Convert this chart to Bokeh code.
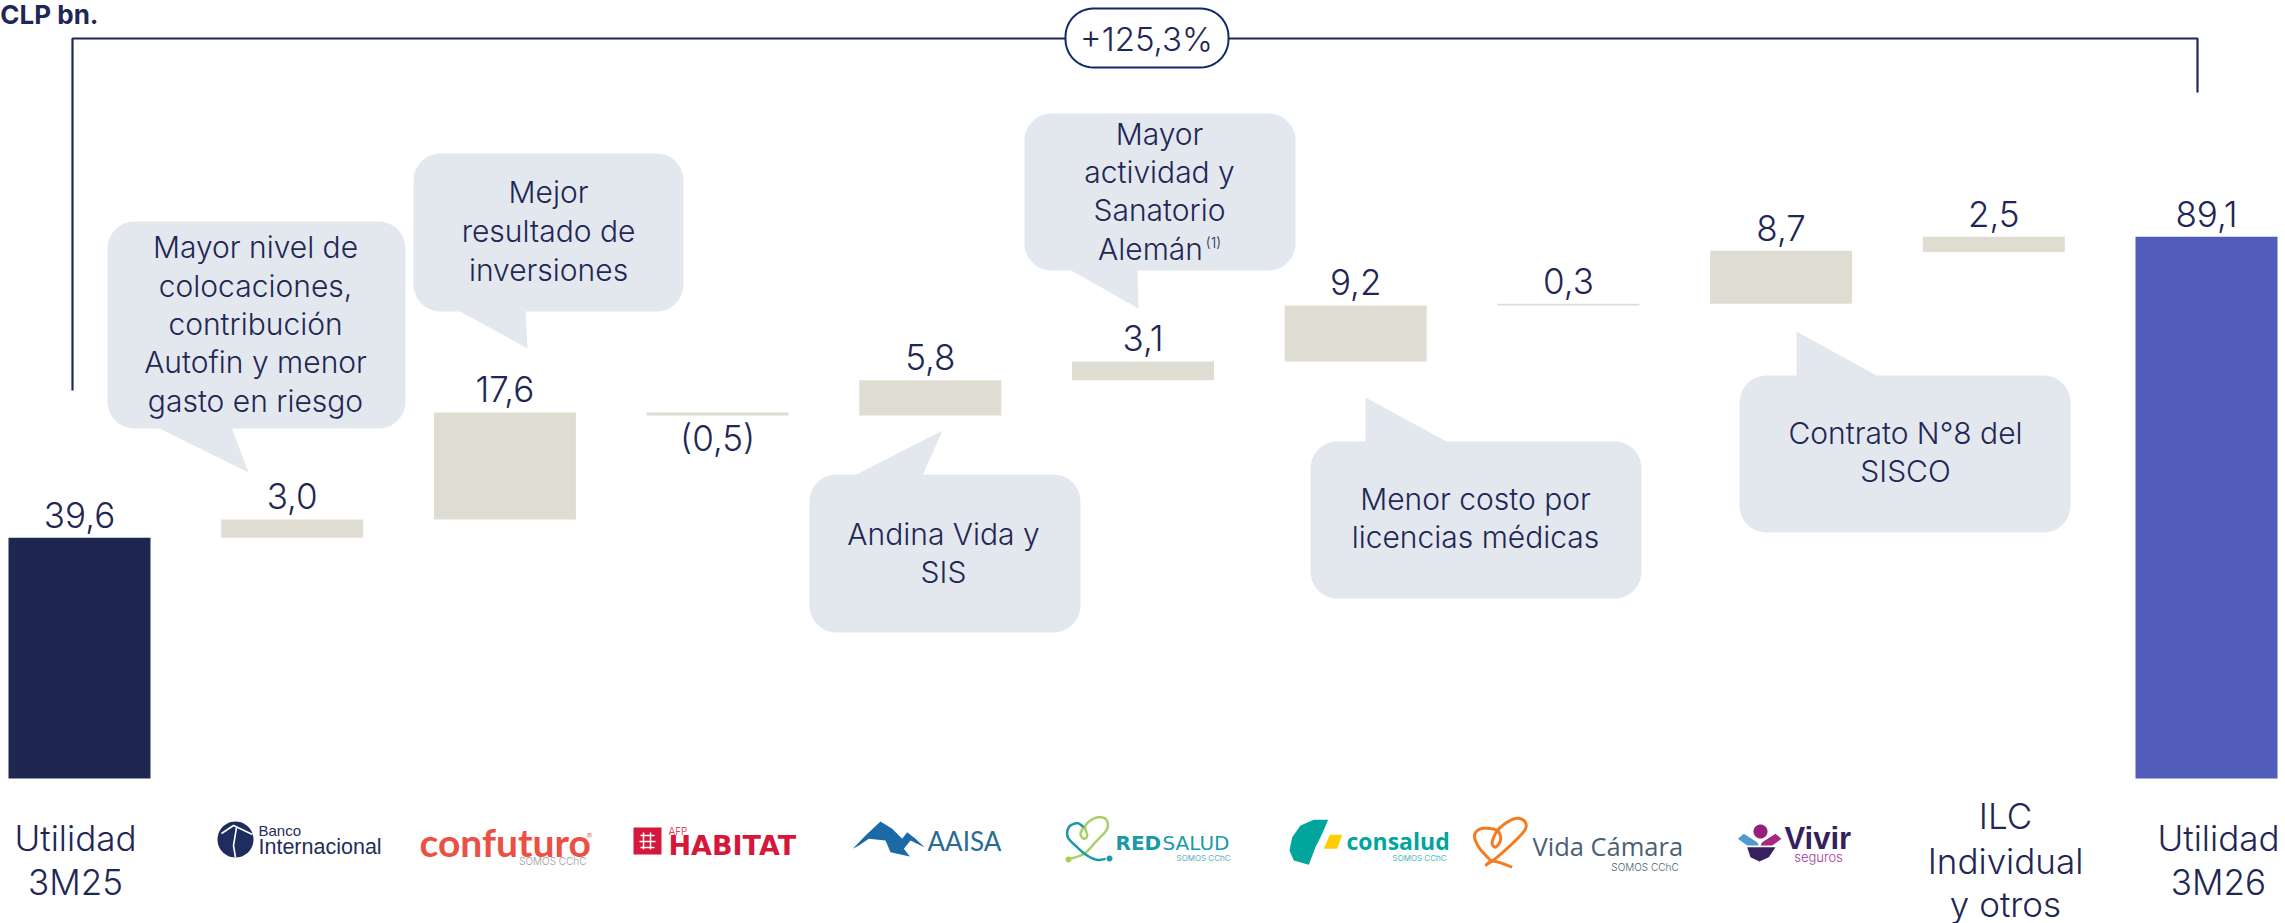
import math
from bokeh.plotting import figure
from bokeh.models import Range1d
from bokeh.core.properties import value
from bokeh.embed import file_html
from bokeh.resources import INLINE

# ---- data ----
categories = ["Utilidad 3M25", "Banco Internacional", "Confuturo", "AFP Habitat", "AAISA", "RedSalud",
              "Consalud", "Vida Cámara", "Vivir", "ILC Individual y otros", "Utilidad 3M26"]
values = [39.6, 3.0, 17.6, 0.5, 5.8, 3.1, 9.2, 0.3, 8.7, 2.5, 89.1]
starts = [0, 39.6, 42.6, 59.7, 59.7, 65.5, 68.6, 77.8, 78.1, 86.6, 0]
labels = ["39,6", "3,0", "17,6", "(0,5)", "5,8", "3,1", "9,2", "0,3", "8,7", "2,5", "89,1"]
bar_colors = ["#1F2650"] + ["#DFDDD1"] * 9 + ["#525CBB"]
change_label = "+125,3%"
unit_label = "CLP bn."

NAVY = "#1F2755"
BUBBLE = "#E3E7EE"
FONT = value("Inter Light")

W, H = 2285, 923
X0, STEP, Y0, PPU = 79.0, 212.7, 778.0, 6.08


def X(px):
    return (px - X0) / STEP


def Y(py):
    return (Y0 - py) / PPU


p = figure(width=W, height=H, output_backend="svg", toolbar_location=None,
           x_range=Range1d(X(0), X(W)), y_range=Range1d(Y(H), Y(0)),
           min_border=0, outline_line_color=None, background_fill_color="white")
p.axis.visible = False
p.grid.visible = False


def fill(pts, color, **kw):
    p.patch([X(a) for a, _ in pts], [Y(b) for _, b in pts], fill_color=color, line_color=None, **kw)


def stroke(pts, color, width=2.0, **kw):
    p.line([X(a) for a, _ in pts], [Y(b) for _, b in pts], line_color=color, line_width=width, **kw)


def txt(x, y, s, size, color=NAVY, align="center", style="normal", font=FONT):
    p.text([X(x)], [Y(y)], text=[s], text_font=font, text_font_size=f"{size}px", text_color=color,
           text_align=align, text_baseline="middle", text_font_style=style)


def round_rect(x0, y0, x1, y1, r):
    pts = []
    for cx, cy, a0 in ((x1 - r, y0 + r, -90), (x1 - r, y1 - r, 0), (x0 + r, y1 - r, 90), (x0 + r, y0 + r, 180)):
        for k in range(13):
            t = math.radians(a0 + k * 7.5)
            pts.append((cx + r * math.cos(t), cy + r * math.sin(t)))
    return pts


def smooth(pts, n=8):
    """Catmull-Rom rounding of a logo's hand-placed outline."""
    out = []
    q = [pts[0]] + list(pts) + [pts[-1]]
    for i in range(1, len(q) - 2):
        a, b, c, d = q[i - 1], q[i], q[i + 1], q[i + 2]
        for k in range(n):
            t = k / n
            out.append(tuple(
                0.5 * (2 * b[j] + (c[j] - a[j]) * t + (2 * a[j] - 5 * b[j] + 4 * c[j] - d[j]) * t * t
                       + (3 * b[j] - a[j] - 3 * c[j] + d[j]) * t ** 3) for j in (0, 1)))
    out.append(pts[-1])
    return out


def callout(box, tail, lines, cx, line_ys, size=30):
    fill(round_rect(*box, 27), BUBBLE)
    fill(tail, BUBBLE)
    for s, y in zip(lines, line_ys):
        txt(cx, y - 1.5, s, size)


# ---- bracket ----
stroke([(72, 390), (72, 38), (2197, 38), (2197, 92)], NAVY, 2.2)
pill = round_rect(1065, 8, 1228, 67, 28)
p.patch([X(a) for a, _ in pill], [Y(b) for _, b in pill], fill_color="white", line_color="#0D2A6B", line_width=2)
txt(1146, 38, change_label, 33)
txt(98, 14, unit_label, 26, align="right", style="bold", font=value("Inter"))

# ---- callouts ----
callout((107, 221, 405, 428), [(157, 427), (248, 472), (231, 427)],
        ["Mayor nivel de", "colocaciones,", "contribución", "Autofin y menor", "gasto en riesgo"],
        255, [248, 287, 325, 363, 402])
callout((413, 153, 683, 311), [(458, 310), (527, 348), (525, 310)],
        ["Mejor", "resultado de", "inversiones"], 548, [193, 232, 271])
callout((809, 474, 1080, 632), [(854, 475), (942, 430), (922, 475)],
        ["Andina Vida y", "SIS"], 943, [535, 573])
callout((1024, 113, 1295, 270), [(1069, 269), (1138, 308), (1137, 269)],
        ["Mayor", "actividad y", "Sanatorio"], 1159, [135, 173, 211])
txt(1150, 248, "Alemán", 30)
txt(1213, 242, "(1)", 14)
callout((1310, 441, 1641, 598), [(1365, 442), (1365, 397), (1448, 442)],
        ["Menor costo por", "licencias médicas"], 1475, [500, 538])
callout((1739, 375, 2070, 532), [(1796, 376), (1796, 331), (1878, 376)],
        ["Contrato N°8 del", "SISCO"], 1905, [434, 472])

# ---- waterfall bars ----
idx = list(range(len(values)))
tops = [s + v for s, v in zip(starts, values)]
p.vbar(x=idx, bottom=starts, top=tops, width=142 / STEP, fill_color=bar_colors, line_color=None)

# ---- value labels ----
for i, (lab, t, s) in enumerate(zip(labels, tops, starts)):
    below = lab.startswith("(")
    p.text([i], [s if below else t], text=[lab], text_font=FONT, text_font_size="35px", text_color=NAVY,
           text_align="center", text_baseline="middle", y_offset=22 if below else -23)

# ---- category labels ----
for s, y in (("Utilidad", 837), ("3M25", 881)):
    txt(75, y, s, 35)
for s, y in (("Utilidad", 837), ("3M26", 881)):
    txt(2218, y, s, 35)
for s, y in (("ILC", 815), ("Individual", 860), ("y otros", 903)):
    txt(2005, y, s, 35)

# ---- logos (drawn with simple shapes and real text) ----
SM = "#9A9A9A"
LIB = value("Liberation Sans")
# Banco Internacional
circle = round_rect(217, 821, 253, 857, 18)
fill(circle, "#1F2D5E")
stroke([(221, 833), (233, 825), (252, 834)], "white", 1.6)
stroke([(236, 827), (233, 845), (235, 857)], "white", 1.6)
txt(258, 830, "Banco", 15, "#1F2D5E", "left", font=LIB)
txt(258, 846, "Internacional", 21.5, "#1F2D5E", "left", font=LIB)
# Confuturo
txt(419, 841, "confuturo", 39, "#EB5044", "left", "bold", value("Lato"))
txt(589, 835, "®", 8, "#EB5044", "center")
txt(586, 860, "SOMOS CChC", 10, SM, "right")
# AFP Habitat
fill([(633, 827), (661, 827), (661, 854), (633, 854)], "#D4173A")
for a, b in (((640, 835), (654, 835)), ((639, 841), (655, 841)), ((640, 847), (654, 847)),
             ((643, 832), (643, 849)), ((650, 832), (650, 849))):
    stroke([a, b], "white", 1.5)
txt(668, 830, "AFP", 10, "#D4173A", "left")
txt(668, 845, "HABITAT", 27, "#D4173A", "left", "bold", value("DejaVu Sans"))
# AAISA
z = [(697, 145), (735, 105), (780, 63), (815, 85), (845, 115), (860, 95), (885, 115), (912, 140), (890, 130),
     (870, 120), (850, 145), (868, 168), (810, 155), (795, 120), (745, 115), (715, 135)]
fill([(620 + a / 3, 800 + b / 3) for a, b in z], "#1B6AA5")
txt(927, 840, "AAISA", 26, "#2A6B93", "left", font=value("Lato"))
# RedSalud
zt = [(100, 80), (80, 68), (55, 80), (52, 110), (80, 140), (110, 165), (140, 178), (165, 175)]
zg = [(52, 177), (100, 160), (135, 125), (170, 85), (165, 55), (135, 52), (105, 75), (110, 105), (100, 115), (90, 100),
      (100, 80)]
stroke(smooth([(1050 + a / 3, 800 + b / 3) for a, b in zg]), "#A9CF6B", 2.5)
stroke(smooth([(1050 + a / 3, 800 + b / 3) for a, b in zt]), "#1A9AA8", 2.5)
fill(round_rect(1065, 856, 1071, 862, 3), "#A9CF4B")
fill(round_rect(1106, 855, 1112, 861, 3), "#1A9AA8")
txt(1115, 842, "RED", 20, "#1A9AA8", "left", "bold", value("DejaVu Sans"))
txt(1162, 842, "SALUD", 20, "#1A9AA8", "left", font=value("DejaVu Sans"))
txt(1230, 857, "SOMOS CChC", 8, "#1A9AA8", "right")
# Consalud
z = [(833, 58), (790, 58), (750, 75), (725, 110), (717, 150), (730, 180), (775, 193), (795, 140), (815, 100)]
fill([(1050 + a / 3, 800 + b / 3) for a, b in z], "#00A69C")
z = [(838, 103), (875, 103), (860, 145), (820, 145)]
fill([(1050 + a / 3, 800 + b / 3) for a, b in z], "#FFCE00")
txt(1346, 840, "consalud", 23, "#00A69C", "left", "bold", value("Open Sans"))
txt(1446, 857, "SOMOS CChC", 8, "#00A69C", "right")
# Vida Camara
z = [(155, 200), (100, 182), (75, 195), (110, 170), (160, 125), (195, 85), (190, 60), (160, 55), (115, 85), (95, 125),
     (105, 140), (120, 120), (115, 95), (95, 85), (60, 85), (42, 105), (55, 140), (90, 180)]
stroke(smooth([(1460 + a / 3, 800 + b / 3) for a, b in z]), "#F47B20", 3)
txt(1532, 845, "Vida Cámara", 25.5, "#4A6075", "left", font=value("Open Sans"))
txt(1681, 866, "SOMOS  CChC", 10, "#4A6075", "right")
# Vivir
fill(round_rect(1753, 824, 1767, 838, 7), "#96207F")
z = [(832, 115), (850, 100), (890, 125), (895, 135), (860, 135)]
fill([(1460 + a / 3, 800 + b / 3) for a, b in z], "#4F9BD1")
z = [(963, 115), (945, 100), (905, 125), (900, 135), (935, 135)]
fill([(1460 + a / 3, 800 + b / 3) for a, b in z], "#A5297F")
z = [(860, 140), (945, 140), (925, 170), (897, 183), (870, 170)]
fill([(1460 + a / 3, 800 + b / 3) for a, b in z], "#37205E")
txt(1784, 838, "Vivir", 31, "#35205D", "left", "bold", LIB)
txt(1818, 856, "seguros", 13, "#A03A97", "center")

open("out.html", "w").write(file_html(p, INLINE))
